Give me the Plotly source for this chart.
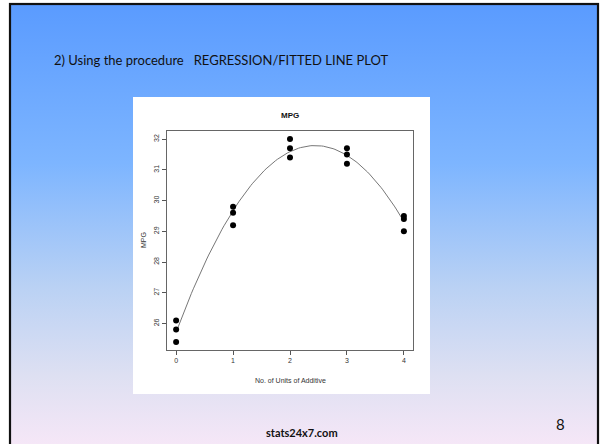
import base64
import numpy as np
import plotly.graph_objects as go

# ---- data ----
additive_units = [0, 0, 0, 1, 1, 1, 2, 2, 2, 3, 3, 3, 4, 4, 4]
mpg = [26.1, 25.8, 25.4, 29.8, 29.6, 29.2, 32.0, 31.7, 31.4, 31.7, 31.5, 31.2, 29.5, 29.4, 29.0]
x_ticks = [0, 1, 2, 3, 4]
y_ticks = [26, 27, 28, 29, 30, 31, 32]

slide_heading = "2) Using the procedure &nbsp; REGRESSION/FITTED LINE PLOT"
chart_title = "MPG"
x_title = "No. of Units of Additive"
y_title = "MPG"
footer = "stats24x7.com"
page_no = "8"

W, H = 600, 444

# quadratic fitted line (as in the fitted-line-plot procedure)
coef = np.polyfit(additive_units, mpg, 2)
xf = np.linspace(min(additive_units), max(additive_units), 120)
yf = np.polyval(coef, xf)

# R-style axis ranges (4% extension)
xr = [min(additive_units), max(additive_units)]
yr = [min(mpg), max(mpg)]
dx = (xr[1] - xr[0]) * 0.04
dy = (yr[1] - yr[0]) * 0.04

# slide background as an svg gradient
svg = f'''<svg xmlns="http://www.w3.org/2000/svg" width="{W}" height="{H}" viewBox="0 0 {W} {H}">
<defs><linearGradient id="g" x1="0" y1="0" x2="0" y2="1">
<stop offset="0" stop-color="#5A9BFF"/>
<stop offset="0.35" stop-color="#7DB5FF"/>
<stop offset="0.62" stop-color="#B9D1F4"/>
<stop offset="0.82" stop-color="#DEE0F2"/>
<stop offset="1" stop-color="#FAE8F8"/>
</linearGradient></defs>
<rect x="0" y="0" width="{W}" height="{H}" fill="#ffffff"/>
<rect x="10" y="4" width="588" height="{H+10}" fill="url(#g)" stroke="#111111" stroke-width="2.2"/>
</svg>'''
src = "data:image/svg+xml;base64," + base64.b64encode(svg.encode()).decode()

fig = go.Figure()
fig.add_trace(go.Scatter(x=xf, y=yf, mode="lines",
                         line=dict(color="#777777", width=1), hoverinfo="skip"))
fig.add_trace(go.Scatter(x=additive_units, y=mpg, mode="markers",
                         marker=dict(color="black", size=6)))

def px_x(p):
    return p / W

def px_y(p):
    return 1 - p / H

axis_font = dict(family="Liberation Sans, Arial", size=7, color="#333333")

fig.update_layout(
    width=W, height=H, margin=dict(l=0, r=0, t=0, b=0),
    paper_bgcolor="white", plot_bgcolor="rgba(0,0,0,0)",
    showlegend=False,
    images=[dict(source=src, xref="paper", yref="paper", x=0, y=1,
                 sizex=1, sizey=1, sizing="stretch", layer="below",
                 xanchor="left", yanchor="top")],
    shapes=[dict(type="rect", xref="paper", yref="paper",
                 x0=px_x(133), x1=px_x(430), y0=px_y(394), y1=px_y(97),
                 fillcolor="white", line=dict(width=0), layer="below")],
    xaxis=dict(domain=[px_x(167), px_x(413)], range=[xr[0] - dx, xr[1] + dx],
               tickvals=x_ticks, ticks="outside", ticklen=4, tickcolor="#555555",
               showline=True, mirror=True, linecolor="#666666", linewidth=1,
               showgrid=False, zeroline=False, tickfont=axis_font),
    yaxis=dict(domain=[px_y(350), px_y(131)], range=[yr[0] - dy, yr[1] + dy],
               tickvals=y_ticks, ticks="outside", ticklen=4, tickcolor="#555555",
               showline=True, mirror=True, linecolor="#666666", linewidth=1,
               showgrid=False, zeroline=False, tickfont=axis_font, tickangle=-90),
    annotations=[
        dict(text=slide_heading, xref="paper", yref="paper", x=px_x(52), y=px_y(60),
             xanchor="left", yanchor="middle", showarrow=False,
             font=dict(family="Lato, Carlito, sans-serif", size=13, color="#111111")),
        dict(text="<b>" + chart_title + "</b>", xref="paper", yref="paper",
             x=px_x(290), y=px_y(115), xanchor="center", yanchor="middle", showarrow=False,
             font=dict(family="Liberation Sans, Arial", size=8, color="#111111")),
        dict(text=x_title, xref="paper", yref="paper", x=px_x(290), y=px_y(380),
             xanchor="center", yanchor="middle", showarrow=False,
             font=dict(family="Liberation Sans, Arial", size=7, color="#333333")),
        dict(text=y_title, xref="paper", yref="paper", x=px_x(143), y=px_y(240),
             xanchor="center", yanchor="middle", showarrow=False, textangle=-90,
             font=dict(family="Liberation Sans, Arial", size=7, color="#333333")),
        dict(text="<b>" + footer + "</b>", xref="paper", yref="paper", x=px_x(302), y=px_y(432),
             xanchor="center", yanchor="middle", showarrow=False,
             font=dict(family="Lato, Carlito, sans-serif", size=11, color="#111111")),
        dict(text=page_no, xref="paper", yref="paper", x=px_x(560), y=px_y(424),
             xanchor="center", yanchor="middle", showarrow=False,
             font=dict(family="Lato, Carlito, sans-serif", size=15, color="#111111")),
    ],
)

fig.write_html("out.html", config={"displayModeBar": False},
               post_script="document.body.style.margin='0';document.body.style.overflow='hidden';")
